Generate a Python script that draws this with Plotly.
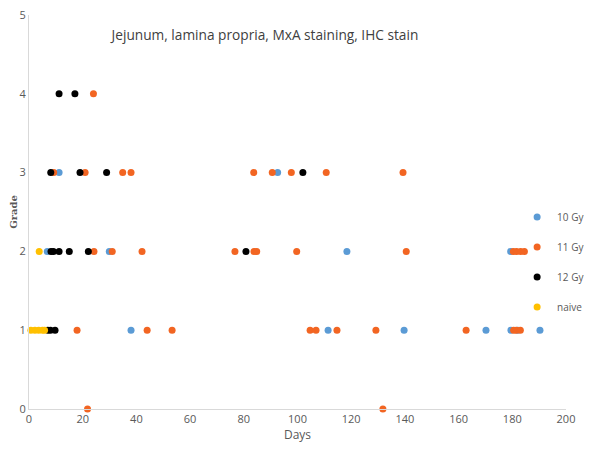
import plotly.graph_objects as go

# 10 Gy
gy10_days = [11.2, 92.6, 6.8, 29.9, 118.4, 179.4, 38, 111.4, 139.7, 170.2, 179.5, 182, 190.3]
gy10_grade = [3, 3, 2, 2, 2, 2, 1, 1, 1, 1, 1, 1, 1]

# 11 Gy
gy11_days = [24, 9.2, 20.9, 34.9, 38, 83.7, 90.6, 97.7, 110.7, 139.3,
             24.2, 31, 42.1, 76.7, 83.8, 84.8, 99.7, 140.5, 180.4, 181.6, 183.1, 184.5,
             17.9, 44, 53.3, 104.7, 106.9, 114.7, 129.2, 162.8, 180.5, 181.5, 183,
             21.8, 131.8]
gy11_grade = [4, 3, 3, 3, 3, 3, 3, 3, 3, 3,
              2, 2, 2, 2, 2, 2, 2, 2, 2, 2, 2, 2,
              1, 1, 1, 1, 1, 1, 1, 1, 1, 1, 1,
              0, 0]

# 12 Gy
gy12_days = [11.2, 17.1, 8.1, 19, 28.9, 102, 8.2, 9.1, 11.2, 15, 22.1, 80.8, 7, 8, 9.7]
gy12_grade = [4, 4, 3, 3, 3, 3, 2, 2, 2, 2, 2, 2, 1, 1, 1]

# naive
naive_days = [3.8, 0.7, 2.2, 3.6, 5.0, 5.8]
naive_grade = [2, 1, 1, 1, 1, 1]

x_ticks = [0, 20, 40, 60, 80, 100, 120, 140, 160, 180, 200]
y_ticks = [0, 1, 2, 3, 4, 5]

series = [
    ("10 Gy", gy10_days, gy10_grade, "#5B9BD5"),
    ("11 Gy", gy11_days, gy11_grade, "#F26522"),
    ("12 Gy", gy12_days, gy12_grade, "#000000"),
    ("naive", naive_days, naive_grade, "#FFC000"),
]

fig = go.Figure()
for name, xs, ys, col in series:
    fig.add_trace(go.Scatter(
        x=xs, y=ys, mode="markers", name=name, legendgroup=name,
        marker=dict(color=col, size=7, line=dict(width=0)),
        cliponaxis=False,
    ))

tick_font = dict(family="Open Sans, sans-serif", size=11, color="#595959")

fig.update_layout(
    width=592, height=440,
    margin=dict(l=21, r=34, t=7, b=39, autoexpand=False),
    paper_bgcolor="white", plot_bgcolor="white",
    font=dict(family="Open Sans, sans-serif", color="#595959", size=11),
    title=dict(text="Jejunum, lamina propria, MxA staining, IHC stain",
               x=0.434, xanchor="center", y=0.939, yanchor="middle",
               font=dict(size=13.7, color="#404040")),
    showlegend=True,
    legend=dict(xref="container", yref="container",
                x=0.86, xanchor="left", y=0.423, yanchor="middle",
                font=dict(size=10, color="#595959"),
                tracegroupgap=11, itemwidth=30, borderwidth=0,
                bgcolor="rgba(0,0,0,0)"),
    xaxis=dict(range=[0, 200], tickvals=x_ticks, showgrid=False, zeroline=False,
               showline=True, linecolor="#D9D9D9", linewidth=1, ticks="",
               tickfont=tick_font, automargin=False,
               title=dict(text="Days", standoff=2, font=dict(size=12, color="#595959"))),
    yaxis=dict(range=[0, 5], tickvals=y_ticks, showgrid=False, zeroline=False,
               showline=True, linecolor="#D9D9D9", linewidth=1, ticks="",
               tickfont=tick_font, automargin=False, ticklabeloverflow="allow",
               title=dict(text="<b>Grade</b>", standoff=2,
                          font=dict(family="DejaVu Serif, serif", size=10, color="#595959"))),
)

fig.write_html("out.html")
